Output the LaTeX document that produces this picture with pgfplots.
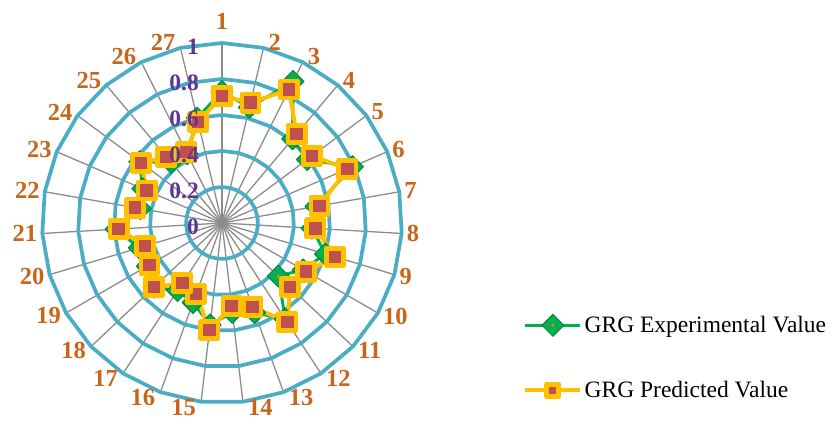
\documentclass[border=0pt]{standalone}
\usepackage{pgfplots}
\pgfplotsset{compat=1.18}
\usepackage{pgfplotstable}
\usepgfplotslibrary{polar}
\usepackage{fontspec}
\setmainfont{Liberation Serif}[BoldFont={Liberation Serif Bold}]
\definecolor{ringc}{HTML}{4BACC6}
\definecolor{spokec}{HTML}{8C8C8C}
\definecolor{expc}{HTML}{00B050}
\definecolor{expd}{HTML}{0A7A35}
\definecolor{predc}{HTML}{FFC000}
\definecolor{predf}{HTML}{C0504D}
\definecolor{catc}{HTML}{C8651B}
\definecolor{radc}{HTML}{5E3592}
\definecolor{dotc}{HTML}{F07820}

\pgfdeclareplotmark{gdiam}{%
  \pgfpathmoveto{\pgfqpoint{0pt}{\pgfplotmarksize}}%
  \pgfpathlineto{\pgfqpoint{\pgfplotmarksize}{0pt}}%
  \pgfpathlineto{\pgfqpoint{0pt}{-\pgfplotmarksize}}%
  \pgfpathlineto{\pgfqpoint{-\pgfplotmarksize}{0pt}}%
  \pgfpathclose
  \pgfusepathqfillstroke
  \begin{pgfscope}%
  \pgfsetfillcolor{dotc}%
  \pgfpathcircle{\pgfpointorigin}{0.16\pgfplotmarksize}%
  \pgfusepathqfill
  \end{pgfscope}%
}

\pgfplotstableread{
k exp pred
1 0.73 0.705
2 0.66 0.687
3 0.88 0.83
4 0.61 0.645
5 0.59 0.625
6 0.79 0.758
7 0.53 0.55
8 0.50 0.52
9 0.60 0.655
10 0.52 0.54
11 0.43 0.52
12 0.64 0.66
13 0.53 0.495
14 0.50 0.464
15 0.57 0.60
16 0.47 0.42
17 0.45 0.40
18 0.52 0.52
19 0.48 0.465
20 0.48 0.445
21 0.59 0.575
22 0.46 0.49
23 0.48 0.456
24 0.57 0.56
25 0.44 0.48
26 0.43 0.44
27 0.60 0.577
28 0.73 0.705
}\grg

\pgfplotstableread{
k one
0 1
1 1
2 1
3 1
4 1
5 1
6 1
7 1
8 1
9 1
10 1
11 1
12 1
13 1
14 1
15 1
16 1
17 1
18 1
19 1
20 1
21 1
22 1
23 1
24 1
25 1
26 1
27 1
}\ringtab

\begin{document}
\begin{tikzpicture}
\begin{polaraxis}[
  scale only axis, width=360bp, height=360bp,
  xmin=0, xmax=360, ymin=0, ymax=1,
  hide axis,
  clip=false,
  legend style={at={(axis description cs:1.336,0.247)}, anchor=north west,
    draw=none, fill=none, font=\fontsize{23.5bp}{28bp}\selectfont,
    row sep=43bp, inner sep=0pt,
    /tikz/every even column/.style={column sep=4bp}},
  legend cell align=left,
  legend image code/.code={\draw[#1, mark repeat=2, mark phase=2] plot coordinates {(0bp,0bp) (27.5bp,0bp) (55bp,0bp)};},
]
\addlegendimage{expc, line width=3.5bp, mark=gdiam, mark size=11bp, mark options={fill=expc, draw=expd, line width=0.8bp}}
\addlegendentry{GRG Experimental Value}
\addlegendimage{predc, line width=4.5bp, mark=square*, mark size=6bp, mark options={fill=predf, draw=predc, line width=5bp, line join=round}}
\addlegendentry{GRG Predicted Value}
\pgfplotsinvokeforeach{1,...,27}{
  \draw[spokec, line width=1.3bp] (axis cs:{90-(#1-1)*360/27},0) -- (axis cs:{90-(#1-1)*360/27},1);
}
\pgfplotsinvokeforeach{0.2,0.4,0.6,0.8,1}{
  \addplot[ringc, line width=3.7bp, no marks, forget plot] table[x expr={90-\thisrow{k}*360/27}, y expr={#1*\thisrow{one}}] {\ringtab};
}
\addplot[expc, line width=3bp, line join=round, mark=gdiam, mark size=11bp,
  mark options={fill=expc, draw=expd, line width=0.8bp}, forget plot]
  table[x expr={90-(\thisrow{k}-1)*360/27}, y=exp] {\grg};
\addplot[predc, line width=4bp, line join=round, mark=square*, mark size=8.6bp,
  mark options={fill=predf, draw=predc, line width=4.75bp, line join=round}, forget plot]
  table[x expr={90-(\thisrow{k}-1)*360/27}, y=pred] {\grg};
\coordinate (C) at (axis cs:0,0);
\end{polaraxis}
\foreach \k in {1,...,27}{
  \pgfmathsetmacro\th{(\k-1)*360/27}
  \pgfmathsetmacro\vx{180*sin(\th)}
  \pgfmathsetmacro\vy{180*cos(\th)}
  \pgfmathsetmacro\dy{6*cos(\th)}
  \ifnum\k=1
    \node[text=catc, font=\bfseries\fontsize{24.5bp}{28bp}\selectfont, inner sep=0pt, anchor=south]
      at ([shift={(0bp,193bp)}]C) {\k};
  \else\ifnum\k<15
    \node[text=catc, font=\bfseries\fontsize{24.5bp}{28bp}\selectfont, inner sep=5bp, anchor=west]
      at ([shift={(\vx bp,\vy bp+\dy bp)}]C) {\k};
  \else
    \node[text=catc, font=\bfseries\fontsize{24.5bp}{28bp}\selectfont, inner sep=5bp, anchor=east]
      at ([shift={(\vx bp,\vy bp+\dy bp)}]C) {\k};
  \fi\fi
}
\foreach \r/\t in {0/0, 0.2/0.2, 0.4/0.4, 0.6/0.6, 0.8/0.8, 1/1}{
  \node[text=radc, font=\bfseries\fontsize{23.5bp}{28bp}\selectfont, anchor=east, inner sep=0pt]
    at ([shift={(-23bp,\r*180bp-4bp)}]C) {\t};
}
\pgfresetboundingbox
\path[use as bounding box] ([shift={(-222bp,-199bp)}]C) rectangle ([shift={(610bp,223bp)}]C);
\end{tikzpicture}
\end{document}
